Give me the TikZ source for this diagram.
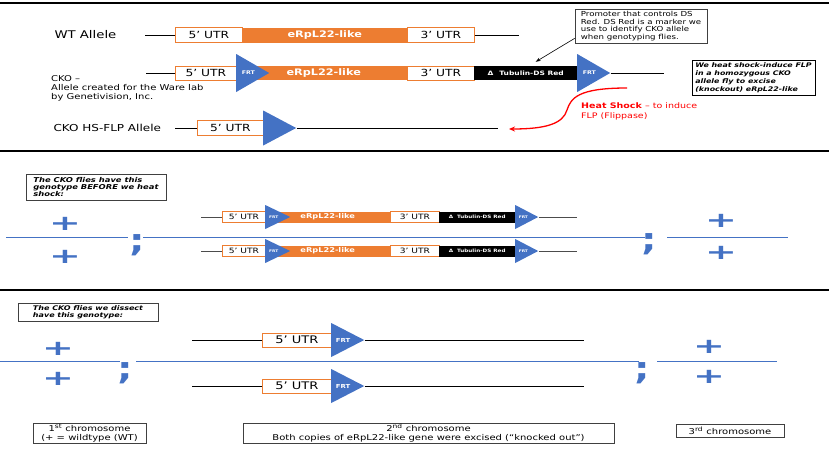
\documentclass[tikz,border=0pt]{standalone}
\usepackage{fontspec}
\setmainfont[FakeStretch=1.25]{DejaVu Sans}
\usetikzlibrary{shapes.geometric,arrows.meta}

\definecolor{ckoorange}{HTML}{ED7D31}
\definecolor{ckoblue}{HTML}{4472C4}
\definecolor{hsred}{HTML}{FF0000}

\newcommand{\fsz}[2]{\fontsize{#1}{#2}\selectfont}
\newcommand{\wideplus}{\scalebox{1.45}[1]{+}}

\tikzset{
  utr/.style={draw=ckoorange,fill=white,line width=0.8pt,anchor=west,inner sep=0pt},
  gene/.style={fill=ckoorange,text=white,anchor=west,inner sep=0pt},
  tubbox/.style={fill=black,text=white,anchor=west,inner sep=0pt},
  frt/.style={isosceles triangle,isosceles triangle stretches,fill=ckoblue,text=white,inner sep=0pt,anchor=lower side},
  dna/.style={line width=0.9pt},
  chrom/.style={draw=ckoblue,line width=1pt},
  sepline/.style={line width=2.2pt},
  note/.style={draw=black!75,line width=0.7pt,align=left,inner sep=0pt},
  wtplus/.style={text=ckoblue,font=\fsz{21}{21}\bfseries,inner sep=0pt},
  semi/.style={text=ckoblue,font=\fsz{31}{31}\bfseries,inner sep=0pt,anchor=base}
}

\begin{document}
\begin{tikzpicture}[x=1pt,y=-1pt]
  \useasboundingbox (0,0) rectangle (829,453);

  % separators
  \draw[sepline] (0,3) -- (829,3);
  \draw[sepline] (0,151) -- (829,151);
  \draw[sepline] (0,290) -- (829,290);

  % WT allele
  \node[anchor=west,font=\fsz{10.6}{12}] (wtlab) at (51,35) {WT Allele};
  \coordinate (wtl) at (145,35);
  \coordinate (wtr) at (519,35);
  \node[gene,minimum width=165pt,minimum height=15pt,font=\fsz{9}{10}\bfseries] (wtg) at (242,35) {eRpL22-like};
  \node[utr,minimum width=67pt,minimum height=15pt,font=\fsz{9.8}{11}] (wt5) at (175,35) {5’ UTR};
  \node[utr,minimum width=67pt,minimum height=15pt,font=\fsz{9.8}{11}] (wt3) at (407,35) {3’ UTR};
  \draw[dna] (wtl) -- (wt5.west);
  \draw[dna] (wt3.east) -- (wtr);

  % CKO allele
  \coordinate (ckol) at (146,73);
  \coordinate (ckor) at (664,73);
  \node[gene,minimum width=171pt,minimum height=14pt,font=\fsz{9}{10}\bfseries] (ckog) at (236,73) {\hspace{4pt}eRpL22-like};
  \node[utr,minimum width=61pt,minimum height=14pt,font=\fsz{9.8}{11}] (cko5) at (175,73) {5’ UTR};
  \node[frt,minimum width=38pt,minimum height=33pt,font=\fsz{5}{5}\bfseries] (ckof1) at (236,73) {FRT};
  \node[utr,minimum width=67pt,minimum height=14pt,font=\fsz{9.8}{11}] (cko3) at (407,73) {3’ UTR};
  \node[tubbox,minimum width=103pt,minimum height=14pt,font=\fsz{6}{7}\bfseries] (ckot) at (474,73) {Δ\hspace{6pt}Tubulin-DS Red};
  \node[frt,minimum width=38pt,minimum height=33pt,font=\fsz{5}{5}\bfseries] (ckof2) at (577,73) {FRT};
  \draw[dna] (ckol) -- (cko5.west);
  \draw[dna] (ckof2.apex) -- (ckor);
  \node[anchor=north west,align=left,inner sep=0pt,font=\fsz{8}{9}] (ckotxt) at (51,75)
    {CKO –\\Allele created for the Ware lab\\by Genetivision, Inc.};

  % HS-FLP allele
  \node[anchor=west,font=\fsz{9.6}{11}] (hslab) at (50,128) {CKO HS-FLP Allele};
  \coordinate (hsl) at (175,128);
  \coordinate (hsr) at (498,128);
  \node[utr,minimum width=66pt,minimum height=15pt,font=\fsz{9.8}{11}] (hs5) at (197,128) {5’ UTR};
  \node[frt,minimum width=35pt,minimum height=33pt] (hsf) at (263,128) {};
  \draw[dna] (hsl) -- (hs5.west);
  \draw[dna] (hsf.apex) -- (hsr);

  % notes
  \node[note,minimum width=132pt,minimum height=34pt,font=\fsz{6.9}{7.7}] (promo) at (641,26)
    {Promoter that controls DS\\Red. DS Red is a marker we\\use to identify CKO allele\\when genotyping flies.};
  \draw[-{Stealth[length=5pt,width=3.5pt]},line width=0.6pt] ([yshift=5pt]promo.south west) -- ([xshift=10pt,yshift=4pt]ckot.north);
  \node[note,draw=black,minimum width=123pt,minimum height=35pt,font=\fsz{6.3}{8}\bfseries\itshape] (heatbox) at (753.5,77.5)
    {We heat shock-induce FLP\\in a homozygous CKO\\allele fly to excise\\(knockout) eRpL22-like};

  % heat shock arrow
  \coordinate (hsa) at (627,88);
  \coordinate (hsb) at (509,129);
  \draw[hsred,line width=1.3pt,-{Stealth[length=6pt,width=5pt]}] (hsa) .. controls (578,88) and (571,98) .. (567,110)
    .. controls (563,124) and (545,129) .. (hsb);
  \node[anchor=north west,align=left,inner sep=0pt,text=hsred,font=\fsz{7.6}{10}] (hstxt) at (581,103)
    {\textbf{Heat Shock} – to induce\\FLP (Flippase)};

  % genotype before heat shock
  \node[note,minimum width=140pt,minimum height=26pt,font=\fsz{6.7}{7.2}\bfseries\itshape] (before) at (96,187)
    {The CKO flies have this\\genotype BEFORE we heat\\shock:};
  \node[wtplus] (p1a) at (65,224) {\wideplus};
  \node[wtplus] (p1b) at (65,257) {\wideplus};
  \node[wtplus] (p3a) at (721,221) {\wideplus};
  \node[wtplus] (p3b) at (721,253) {\wideplus};
  \coordinate (c1l) at (6,237);
  \coordinate (c1r) at (128,237);
  \node[semi] (s1) at (137,251) {;};
  \coordinate (c2l) at (143,237);
  \coordinate (c2r) at (645,237);
  \node[semi] (s2) at (649,250) {;};
  \coordinate (c3l) at (667,237);
  \coordinate (c3r) at (788,237);
  \draw[chrom] (c1l) -- (c1r);
  \draw[chrom] (c2l) -- (c2r);
  \draw[chrom] (c3l) -- (c3r);
  \foreach \y/\n in {217/a,251/b} {
    \coordinate (bl\n) at (201,\y);
    \coordinate (br\n) at (577,\y);
    \node[gene,minimum width=125pt,minimum height=11pt,font=\fsz{6.6}{7}\bfseries] (bg\n) at (265,\y) {eRpL22-like};
    \node[utr,minimum width=43pt,minimum height=11pt,font=\fsz{7.3}{8}] (b5\n) at (222,\y) {5’ UTR};
    \node[frt,minimum width=24pt,minimum height=25pt,font=\fsz{3.5}{4}\bfseries] (bf1\n) at (265,\y) {FRT};
    \node[utr,minimum width=49pt,minimum height=11pt,font=\fsz{7.3}{8}] (b3\n) at (390,\y) {3’ UTR};
    \node[tubbox,minimum width=76pt,minimum height=11pt,font=\fsz{4.5}{5}\bfseries] (bt\n) at (439,\y) {Δ\hspace{4pt}Tubulin-DS Red};
    \node[frt,minimum width=24pt,minimum height=23pt,font=\fsz{3.5}{4}\bfseries] (bf2\n) at (515,\y) {FRT};
    \draw[dna,black!70] (bl\n) -- (b5\n.west);
    \draw[dna,black!70] (bf2\n.apex) -- (br\n);
  }

  % genotype that is dissected
  \node[note,minimum width=140pt,minimum height=18pt,font=\fsz{6.4}{7}\bfseries\itshape] (dissect) at (88,312)
    {The CKO flies we dissect\\have this genotype:};
  \node[wtplus] (q1a) at (58,349) {\wideplus};
  \node[wtplus] (q1b) at (58,379) {\wideplus};
  \node[wtplus] (q3a) at (709,347) {\wideplus};
  \node[wtplus] (q3b) at (709,377) {\wideplus};
  \coordinate (d1l) at (0,361);
  \coordinate (d1r) at (120,361);
  \node[semi] (t1) at (125,379) {;};
  \coordinate (d2l) at (136,361);
  \coordinate (d2r) at (639,361);
  \node[semi] (t2) at (642,379) {;};
  \coordinate (d3l) at (657,361);
  \coordinate (d3r) at (777,361);
  \draw[chrom] (d1l) -- (d1r);
  \draw[chrom] (d2l) -- (d2r);
  \draw[chrom] (d3l) -- (d3r);
  \foreach \y/\n in {340/a,386/b} {
    \coordinate (kl\n) at (192,\y);
    \coordinate (kr\n) at (584,\y);
    \node[utr,minimum width=69pt,minimum height=14pt,font=\fsz{10.4}{11}] (k5\n) at (262,\y) {5’ UTR};
    \node[frt,minimum width=34pt,minimum height=33pt,font=\fsz{5.5}{6}\bfseries] (kf\n) at (331,\y) {FRT};
    \draw[dna] (kl\n) -- (k5\n.west);
    \draw[dna] (kf\n.apex) -- (kr\n);
  }

  % chromosome captions
  \node[note,align=center,minimum width=113pt,minimum height=20pt,font=\fsz{8}{9}] (chr1) at (89.5,433)
    {1\textsuperscript{st} chromosome\\(+ = wildtype (WT)};
  \node[note,align=center,minimum width=371pt,minimum height=20pt,font=\fsz{8}{9}] (chr2) at (428.5,433)
    {2\textsuperscript{nd} chromosome\\Both copies of eRpL22-like gene were excised (“knocked out”)};
  \node[note,align=center,minimum width=108pt,minimum height=13pt,font=\fsz{8}{9}] (chr3) at (730,430.5)
    {3\textsuperscript{rd} chromosome};
\end{tikzpicture}
\end{document}
